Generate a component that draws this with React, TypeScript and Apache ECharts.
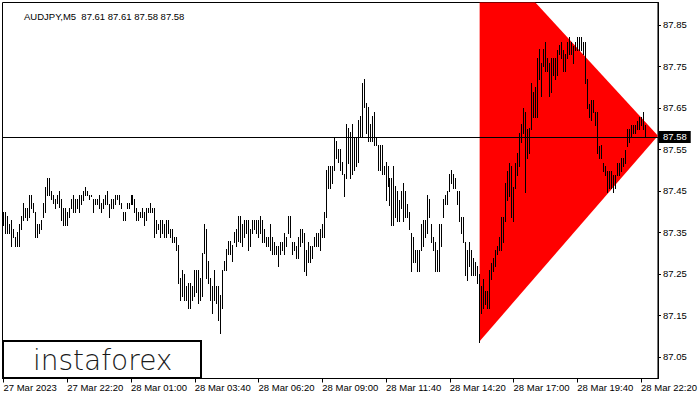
import React, { useEffect, useRef } from "react";
import * as echarts from "echarts";

const titleText = "AUDJPY,M5  87.61 87.61 87.58 87.58";
const tickLabels = [
  "27 Mar 2023", "27 Mar 22:20", "28 Mar 01:00", "28 Mar 03:40", "28 Mar 06:20",
  "28 Mar 09:00", "28 Mar 11:40", "28 Mar 14:20", "28 Mar 17:00", "28 Mar 19:40", "28 Mar 22:20",
];
const barsPerTick = 32;
const slotCount = 329;
const priceTicks = [87.05, 87.15, 87.25, 87.35, 87.45, 87.55, 87.65, 87.75, 87.85];
const currentPrice = 87.58;

const highs = [
  87.400, 87.400, 87.390, 87.371, 87.380, 87.359, 87.340, 87.350, 87.371, 87.390,
  87.420, 87.410, 87.410, 87.440, 87.440, 87.420, 87.400, 87.371, 87.371, 87.380,
  87.420, 87.460, 87.480, 87.480, 87.451, 87.440, 87.430, 87.440, 87.451, 87.430,
  87.410, 87.410, 87.400, 87.410, 87.430, 87.440, 87.430, 87.430, 87.440, 87.440,
  87.451, 87.460, 87.451, 87.440, 87.440, 87.430, 87.430, 87.430, 87.440, 87.420,
  87.430, 87.440, 87.451, 87.419, 87.430, 87.430, 87.440, 87.440, 87.440, 87.420,
  87.400, 87.400, 87.420, 87.420, 87.440, 87.440, 87.430, 87.410, 87.400, 87.400,
  87.410, 87.400, 87.410, 87.410, 87.420, 87.410, 87.410, 87.380, 87.371, 87.380,
  87.380, 87.371, 87.380, 87.380, 87.359, 87.359, 87.340, 87.340, 87.320, 87.240,
  87.260, 87.250, 87.220, 87.229, 87.229, 87.220, 87.260, 87.260, 87.260, 87.240,
  87.300, 87.371, 87.359, 87.280, 87.240, 87.220, 87.260, 87.220, 87.220, 87.200,
  87.260, 87.280, 87.310, 87.330, 87.330, 87.320, 87.350, 87.359, 87.390,
  87.390, 87.371, 87.380, 87.380, 87.380, 87.359, 87.380, 87.380, 87.380, 87.380,
  87.390, 87.380, 87.359, 87.338, 87.338, 87.371, 87.338, 87.328, 87.318, 87.318,
  87.328, 87.328, 87.348, 87.338, 87.390, 87.390, 87.328, 87.328, 87.318, 87.338,
  87.359, 87.359, 87.348, 87.308, 87.328, 87.318, 87.318, 87.338, 87.348, 87.348,
  87.359, 87.371, 87.400, 87.501, 87.510, 87.510, 87.510, 87.579, 87.571, 87.550,
  87.550, 87.519, 87.491, 87.612, 87.601, 87.591, 87.612, 87.579, 87.579, 87.621,
  87.631, 87.711, 87.720, 87.661, 87.651, 87.612, 87.631, 87.641, 87.579, 87.561,
  87.561, 87.561, 87.510, 87.519, 87.510, 87.481, 87.481, 87.510, 87.461, 87.449,
  87.428, 87.449, 87.469, 87.449, 87.419, 87.398, 87.348, 87.338, 87.308, 87.308,
  87.308, 87.371, 87.380, 87.380, 87.441, 87.430, 87.371, 87.340, 87.328, 87.308,
  87.371, 87.371, 87.430, 87.441, 87.449, 87.490, 87.501, 87.490, 87.481, 87.449,
  87.449, 87.388, 87.388, 87.328, 87.308, 87.328, 87.308, 87.288, 87.278, 87.268,
  87.250, 87.220, 87.237, 87.210, 87.210, 87.260, 87.277, 87.288, 87.308, 87.318,
  87.338, 87.388, 87.388, 87.468, 87.499, 87.518, 87.509, 87.459, 87.518, 87.541,
  87.589, 87.611, 87.649, 87.639, 87.599, 87.601, 87.709, 87.689, 87.700, 87.770,
  87.791, 87.759, 87.791, 87.810, 87.770, 87.759, 87.770, 87.770, 87.770, 87.790,
  87.802, 87.810, 87.790, 87.779, 87.810, 87.822, 87.810, 87.799, 87.810, 87.822,
  87.822, 87.822, 87.810, 87.810, 87.719, 87.659, 87.669, 87.669, 87.639, 87.639,
  87.558, 87.561, 87.518, 87.509, 87.499, 87.499, 87.499, 87.489, 87.489, 87.518,
  87.518, 87.529, 87.529, 87.549, 87.599, 87.599, 87.609, 87.609, 87.609, 87.619,
  87.629, 87.629, 87.641, 87.609,
];

const lows = [
  87.368, 87.348, 87.348, 87.348, 87.318, 87.338, 87.318, 87.318, 87.318, 87.358,
  87.379, 87.388, 87.379, 87.388, 87.408, 87.398, 87.338, 87.338, 87.348, 87.358,
  87.388, 87.398, 87.440, 87.440, 87.430, 87.420, 87.408, 87.420, 87.412, 87.379,
  87.368, 87.368, 87.368, 87.388, 87.408, 87.398, 87.398, 87.408, 87.398, 87.419,
  87.428, 87.440, 87.440, 87.430, 87.438, 87.398, 87.419, 87.419, 87.408, 87.398,
  87.408, 87.419, 87.419, 87.388, 87.408, 87.408, 87.419, 87.430, 87.419, 87.408,
  87.379, 87.379, 87.408, 87.408, 87.419, 87.419, 87.398, 87.379, 87.379, 87.388,
  87.388, 87.368, 87.379, 87.398, 87.398, 87.398, 87.338, 87.348, 87.358, 87.338,
  87.348, 87.338, 87.338, 87.348, 87.338, 87.328, 87.328, 87.308, 87.228, 87.187,
  87.197, 87.187, 87.187, 87.167, 87.167, 87.187, 87.197, 87.207, 87.179, 87.187,
  87.197, 87.300, 87.240, 87.228, 87.187, 87.157, 87.187, 87.179, 87.139, 87.107,
  87.167, 87.260, 87.260, 87.298, 87.298, 87.280, 87.328, 87.318, 87.330,
  87.328, 87.318, 87.338, 87.348, 87.308, 87.318, 87.348, 87.358, 87.348, 87.338,
  87.348, 87.328, 87.328, 87.318, 87.318, 87.308, 87.298, 87.298, 87.298, 87.268,
  87.298, 87.308, 87.298, 87.318, 87.348, 87.338, 87.298, 87.308, 87.288, 87.288,
  87.318, 87.328, 87.258, 87.248, 87.278, 87.278, 87.288, 87.318, 87.318, 87.318,
  87.308, 87.338, 87.338, 87.388, 87.458, 87.458, 87.469, 87.501, 87.529, 87.519,
  87.501, 87.491, 87.438, 87.481, 87.518, 87.481, 87.491, 87.501, 87.510, 87.519,
  87.579, 87.579, 87.651, 87.589, 87.571, 87.571, 87.571, 87.561, 87.561, 87.501,
  87.501, 87.490, 87.490, 87.428, 87.461, 87.416, 87.368, 87.368, 87.388, 87.378,
  87.378, 87.408, 87.378, 87.388, 87.388, 87.358, 87.258, 87.278, 87.278, 87.258,
  87.258, 87.308, 87.318, 87.338, 87.348, 87.388, 87.328, 87.308, 87.258, 87.258,
  87.258, 87.318, 87.388, 87.419, 87.419, 87.449, 87.469, 87.458, 87.458, 87.419,
  87.378, 87.348, 87.328, 87.248, 87.236, 87.268, 87.248, 87.248, 87.248, 87.228,
  87.087, 87.155, 87.167, 87.178, 87.167, 87.167, 87.237, 87.258, 87.268, 87.297,
  87.308, 87.308, 87.328, 87.378, 87.428, 87.438, 87.388, 87.378, 87.458, 87.489,
  87.509, 87.569, 87.589, 87.448, 87.529, 87.541, 87.599, 87.629, 87.629, 87.629,
  87.719, 87.679, 87.750, 87.739, 87.739, 87.679, 87.689, 87.730, 87.719, 87.730,
  87.779, 87.770, 87.739, 87.739, 87.770, 87.779, 87.779, 87.759, 87.790, 87.790,
  87.790, 87.790, 87.779, 87.709, 87.649, 87.629, 87.621, 87.639, 87.609, 87.541,
  87.529, 87.529, 87.499, 87.489, 87.448, 87.458, 87.458, 87.448, 87.458, 87.489,
  87.489, 87.499, 87.509, 87.518, 87.558, 87.569, 87.579, 87.589, 87.589, 87.599,
  87.599, 87.609, 87.599, 87.579,
];

// Triangle pattern: vertices as [bar index, price]
const patternIndex = [239, 239, 328.5];
const patternPrice = [88.05, 87.088, 87.583];

const FONT = "'Liberation Sans', Arial, sans-serif";

export default function App() {
  const ref = useRef<HTMLDivElement>(null);
  useEffect(() => {
    if (!ref.current) return;
    const chart = echarts.init(ref.current, undefined, { renderer: "svg" });
    const categories = Array.from({ length: slotCount }, (_, i) => String(i));
    const barData = highs.map((h, i) => [i, h, lows[i]]);

    const coordAt = (api: any, idx: number, price: number) => {
      const f = Math.floor(idx);
      const c = Math.ceil(idx);
      const a = api.coord([f, price]);
      if (f === c) return a;
      const b = api.coord([c, price]);
      const t = idx - f;
      return [a[0] + (b[0] - a[0]) * t, a[1] + (b[1] - a[1]) * t];
    };

    chart.setOption({
      animation: false,
      backgroundColor: "#ffffff",
      title: {
        text: titleText,
        left: 19,
        top: 6,
        textStyle: { fontSize: 9.5, fontWeight: "normal", color: "#000", fontFamily: FONT },
      },
      grid: {
        left: 2.5,
        top: 2.5,
        width: 658,
        height: 376,
        show: true,
        borderColor: "#000",
        borderWidth: 1,
        backgroundColor: "transparent",
      },
      xAxis: {
        type: "category",
        data: categories,
        boundaryGap: true,
        axisLine: { show: true, lineStyle: { color: "#000", width: 1 } },
        axisTick: { show: true, interval: barsPerTick - 1, alignWithLabel: true, length: 4, lineStyle: { color: "#000" } },
        axisLabel: {
          interval: barsPerTick - 1,
          align: "left",
          margin: 4,
          color: "#000",
          fontSize: 9.5,
          fontFamily: FONT,
          formatter: (_v: string, idx: number) => (idx % barsPerTick === 0 ? tickLabels[idx / barsPerTick] ?? "" : ""),
        },
        splitLine: { show: false },
      },
      yAxis: {
        type: "value",
        position: "right",
        min: 86.998,
        max: 87.904,
        scale: true,
        axisLine: { show: true, lineStyle: { color: "#000", width: 1 } },
        axisTick: { show: true, length: 3, customValues: priceTicks, lineStyle: { color: "#000" } },
        axisLabel: {
          customValues: priceTicks,
          margin: 5,
          color: "#000",
          fontSize: 9.5,
          fontFamily: FONT,
          formatter: (v: number) => v.toFixed(2),
        },
        splitLine: { show: false },
      },
      graphic: [
        {
          type: "rect",
          z: 100,
          shape: { x: 3, y: 341, width: 198, height: 37 },
          style: { fill: "#fff", stroke: "#000", lineWidth: 2 },
        },
        {
          type: "text",
          z: 101,
          x: 33,
          y: 360,
          style: {
            text: "instaforex",
            fontSize: 28,
            fontWeight: 200,
            fontFamily: "'DejaVu Sans', sans-serif",
            fill: "#1a1a1a",
            verticalAlign: "middle",
            align: "left",
          },
        },
      ],
      series: [
        {
          type: "custom",
          z: 1,
          clip: true,
          silent: true,
          data: [[0]],
          renderItem: (_p: any, api: any) => {
            const pts = patternIndex.map((ix, k) => coordAt(api, ix, patternPrice[k]));
            return { type: "polygon", shape: { points: pts }, style: { fill: "#ff0000", stroke: "none" } };
          },
        },
        {
          type: "custom",
          z: 2,
          clip: true,
          silent: true,
          data: barData,
          encode: { x: 0, y: [1, 2] },
          renderItem: (_p: any, api: any) => {
            const i = api.value(0);
            const hi = api.coord([i, api.value(1)]);
            const lo = api.coord([i, api.value(2)]);
            const x = Math.floor(hi[0]) + 0.5;
            return {
              type: "line",
              shape: { x1: x, y1: Math.round(hi[1]), x2: x, y2: Math.round(lo[1]) + 1 },
              style: { stroke: "#000", lineWidth: 1 },
            };
          },
        },
        {
          type: "line",
          z: 3,
          data: [],
          silent: true,
          markLine: {
            silent: true,
            symbol: "none",
            animation: false,
            lineStyle: { color: "#000", width: 1, type: "solid" },
            label: {
              show: true,
              position: "end",
              distance: 1,
              formatter: currentPrice.toFixed(2),
              backgroundColor: "#000",
              color: "#fff",
              fontSize: 9.5,
              fontFamily: FONT,
              padding: [1, 4, 1, 4],
            },
            data: [{ yAxis: currentPrice }],
          },
        },
      ],
    });
    return () => chart.dispose();
  }, []);
  return <div ref={ref} style={{ position: "fixed", left: 0, top: 0, width: 700, height: 400 }} />;
}
